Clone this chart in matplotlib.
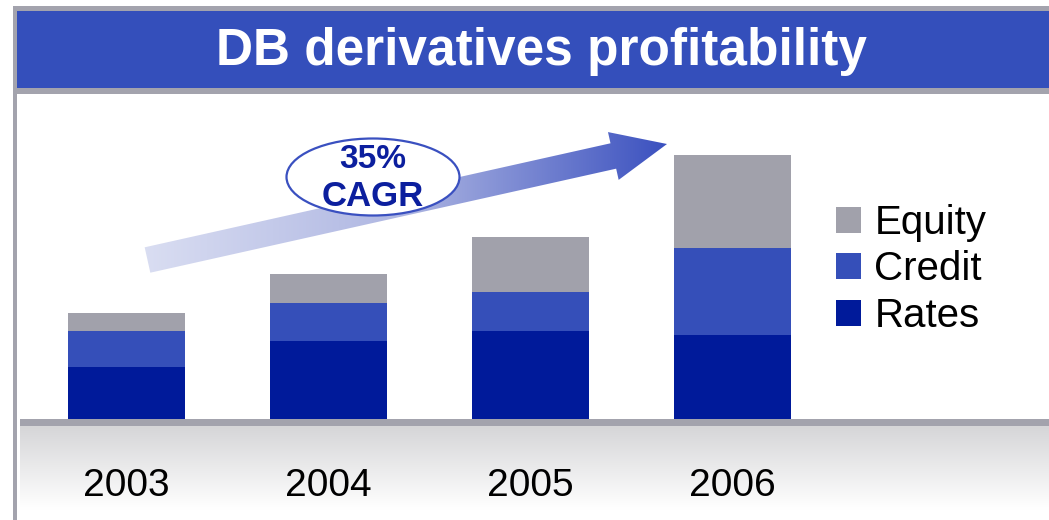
import numpy as np
import matplotlib
matplotlib.use("Agg")
import matplotlib.pyplot as plt
from matplotlib.patches import Rectangle, Polygon, Ellipse
from matplotlib.colors import LinearSegmentedColormap

# ---- data (arbitrary units) ----
years = ["2003", "2004", "2005", "2006"]
rates = [52, 78, 88, 84]
credit = [36, 38, 39, 87]
equity = [18, 29, 55, 93]
series_names = ["Rates", "Credit", "Equity"]
title = "DB derivatives profitability"
cagr_label = ["35%", "CAGR"]

C_RATES = "#001a9a"
C_CREDIT = "#354fb9"
C_EQUITY = "#a1a1ab"
C_BAND = "#344fbb"
C_FRAME = "#a3a3ad"

W, H = 1049, 520
fig = plt.figure(figsize=(W / 100, H / 100), dpi=100)
fig.patch.set_facecolor("white")
FONT = "Liberation Sans"

# ---- decoration layer in pixel coordinates ----
deco = fig.add_axes([0, 0, 1, 1], zorder=0)
deco.set_xlim(0, W)
deco.set_ylim(H, 0)
deco.axis("off")

# frame + title band
deco.add_patch(Rectangle((13, 6), W - 13, 88, facecolor=C_FRAME, edgecolor="none"))
deco.add_patch(Rectangle((17, 11), W - 17, 77, facecolor=C_BAND, edgecolor="none"))
deco.add_patch(Rectangle((13, 6), 4, H - 6, facecolor=C_FRAME, edgecolor="none"))
deco.text(541, 52, title, color="white", fontsize=37, fontweight="bold",
          family=FONT, ha="center", va="center")

# floor: gray line + gradient
deco.add_patch(Rectangle((20, 419), W - 20, 7, facecolor=C_FRAME, edgecolor="none", zorder=2))
grad = np.linspace(0, 1, 100).reshape(-1, 1)
floor_cmap = LinearSegmentedColormap.from_list("floor", ["#d6d6d8", "#ffffff"])
deco.imshow(grad, cmap=floor_cmap, extent=(20, W, 510, 426), aspect="auto", zorder=1)

# gradient arrow
tail = np.array([147.5, 260.0])
tip = np.array([667.0, 144.0])
u = (tip - tail) / np.linalg.norm(tip - tail)
n = np.array([-u[1], u[0]])
hw, head_len, head_hw = 13, 55, 24.5
base = tip - u * head_len
pts = [tail + n * hw, base + n * hw, base + n * head_hw, tip,
       base - n * head_hw, base - n * hw, tail - n * hw]
poly = Polygon(pts, closed=True, facecolor="none", edgecolor="none")
deco.add_patch(poly)
arrow_cmap = LinearSegmentedColormap.from_list("arr", ["#dadef2", "#aeb6e2", "#3a50bf"])
gx = np.linspace(0, 1, 256).reshape(1, -1)
im = deco.imshow(gx, cmap=arrow_cmap, extent=(140, 670, 290, 120), aspect="auto", zorder=3)
im.set_clip_path(poly)

# CAGR ellipse
deco.add_patch(Ellipse((373, 177), 173, 77, facecolor="white", edgecolor="#3a50c0",
                       linewidth=1.6, zorder=4))
deco.text(373, 159, cagr_label[0], color="#0c1f9e", fontsize=24, fontweight="bold",
          family=FONT, ha="center", va="center", zorder=5)
deco.text(373, 196, cagr_label[1], color="#0c1f9e", fontsize=25, fontweight="bold",
          family=FONT, ha="center", va="center", zorder=5)

# ---- bar chart axes ----
ax_left, ax_right = 20, W
ax_top, ax_bottom = 95, 419
ax = fig.add_axes([ax_left / W, (H - ax_bottom) / H, (ax_right - ax_left) / W,
                   (ax_bottom - ax_top) / H], zorder=1)
ax.patch.set_alpha(0)
step = 202.0
x = np.arange(len(years))
ax.set_xlim(-(126.5 - ax_left) / step, (ax_right - 126.5) / step)
ax.set_ylim(0, ax_bottom - ax_top)
bw = 117 / step
b1 = ax.bar(x, rates, bw, color=C_RATES, label=series_names[0])
b2 = ax.bar(x, credit, bw, bottom=rates, color=C_CREDIT, label=series_names[1])
b3 = ax.bar(x, equity, bw, bottom=np.add(rates, credit), color=C_EQUITY, label=series_names[2])
for s in ax.spines.values():
    s.set_visible(False)
ax.set_yticks([])
ax.set_xticks(x)
ax.set_xticklabels(years, fontsize=28, family=FONT, color="black")
ax.tick_params(axis="x", length=0, pad=35)

leg = ax.legend([b3, b2, b1], [series_names[2], series_names[1], series_names[0]],
                loc="upper left", bbox_to_anchor=((836 - ax_left) / (ax_right - ax_left),
                                                  (ax_bottom - 204) / (ax_bottom - ax_top)),
                frameon=False, prop={"family": FONT, "size": 29},
                handlelength=0.63, handleheight=0.63, handletextpad=0.32,
                labelspacing=0.21, borderpad=0.0, borderaxespad=0.0)

fig.savefig("out.png", dpi=100, facecolor="white")
